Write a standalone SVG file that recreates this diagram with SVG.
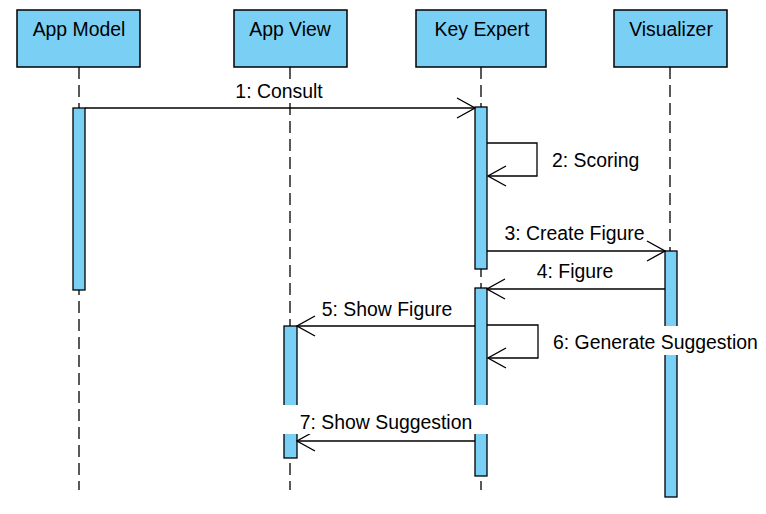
<svg xmlns="http://www.w3.org/2000/svg" width="766" height="514" viewBox="0 0 766 514">
<style>
.head{fill:#7ACFF5;stroke:#000;stroke-width:1.5}
.act{fill:#7ACFF5;stroke:#000;stroke-width:1.3}
.life{stroke:#000;stroke-width:1.3;stroke-dasharray:12 6;fill:none}
.msg{stroke:#000;stroke-width:1.3;fill:none}
.t{font-family:"Liberation Sans",Arial,sans-serif;font-size:19.4px;fill:#000}
.bg{fill:#fff;stroke:none}
</style>
<defs>
<marker id="open" viewBox="0 0 20 22" refX="19" refY="11" markerWidth="20" markerHeight="22" markerUnits="userSpaceOnUse" orient="auto">
<path d="M1,1 L19,11 L1,21" fill="none" stroke="#000" stroke-width="1.4"/>
</marker>
</defs>
<g id="lifelines">
<line class="life" x1="79" y1="67" x2="79" y2="490"/>
<line class="life" x1="290" y1="67" x2="290" y2="490"/>
<line class="life" x1="481" y1="67" x2="481" y2="490"/>
<line class="life" x1="670" y1="67" x2="670" y2="490"/>
</g>
<g id="app-model">
<rect class="head" x="17" y="10" width="123" height="57"/>
<text class="t" x="79" y="36" text-anchor="middle">App Model</text>
<rect class="act" x="73" y="108" width="12" height="182"/>
</g>
<g id="app-view">
<rect class="head" x="234" y="10" width="113" height="57"/>
<text class="t" x="290" y="36" text-anchor="middle">App View</text>
<rect class="act" x="284" y="326" width="13" height="132"/>
</g>
<g id="key-expert">
<rect class="head" x="416" y="10" width="130" height="57"/>
<text class="t" x="482" y="36" text-anchor="middle">Key Expert</text>
<rect class="act" x="475" y="107" width="12" height="162"/>
<rect class="act" x="475" y="288" width="12" height="188"/>
</g>
<g id="visualizer">
<rect class="head" x="614" y="10" width="113" height="57"/>
<text class="t" x="671" y="36" text-anchor="middle">Visualizer</text>
<rect class="act" x="665" y="251" width="12" height="246"/>
</g>
<g id="connectors">
<line class="msg" x1="85" y1="108" x2="475" y2="108" marker-end="url(#open)"/>
<polyline class="msg" points="487,143 537,143 537,176 488,176" marker-end="url(#open)"/>
<line class="msg" x1="487" y1="251" x2="665" y2="251" marker-end="url(#open)"/>
<line class="msg" x1="665" y1="289" x2="487" y2="289" marker-end="url(#open)"/>
<line class="msg" x1="475" y1="326" x2="297" y2="326" marker-end="url(#open)"/>
<polyline class="msg" points="487,325 538,325 538,358 488,358" marker-end="url(#open)"/>
<line class="msg" x1="475" y1="441" x2="297" y2="441" marker-end="url(#open)"/>
</g>
<g id="labels">
<rect class="bg" x="232" y="80" width="94" height="23"/>
<text class="t" x="279" y="98" text-anchor="middle">1: Consult</text>
<text class="t" x="552" y="167">2: Scoring</text>
<text class="t" x="574.5" y="240" text-anchor="middle">3: Create Figure</text>
<text class="t" x="575" y="278" text-anchor="middle">4: Figure</text>
<text class="t" x="387" y="316" text-anchor="middle">5: Show Figure</text>
<rect class="bg" x="549" y="326" width="213" height="29"/>
<text class="t" x="553" y="349">6: Generate Suggestion</text>
<rect class="bg" x="280" y="405" width="210" height="29"/>
<text class="t" x="386" y="429" text-anchor="middle">7: Show Suggestion</text>
</g>
</svg>
